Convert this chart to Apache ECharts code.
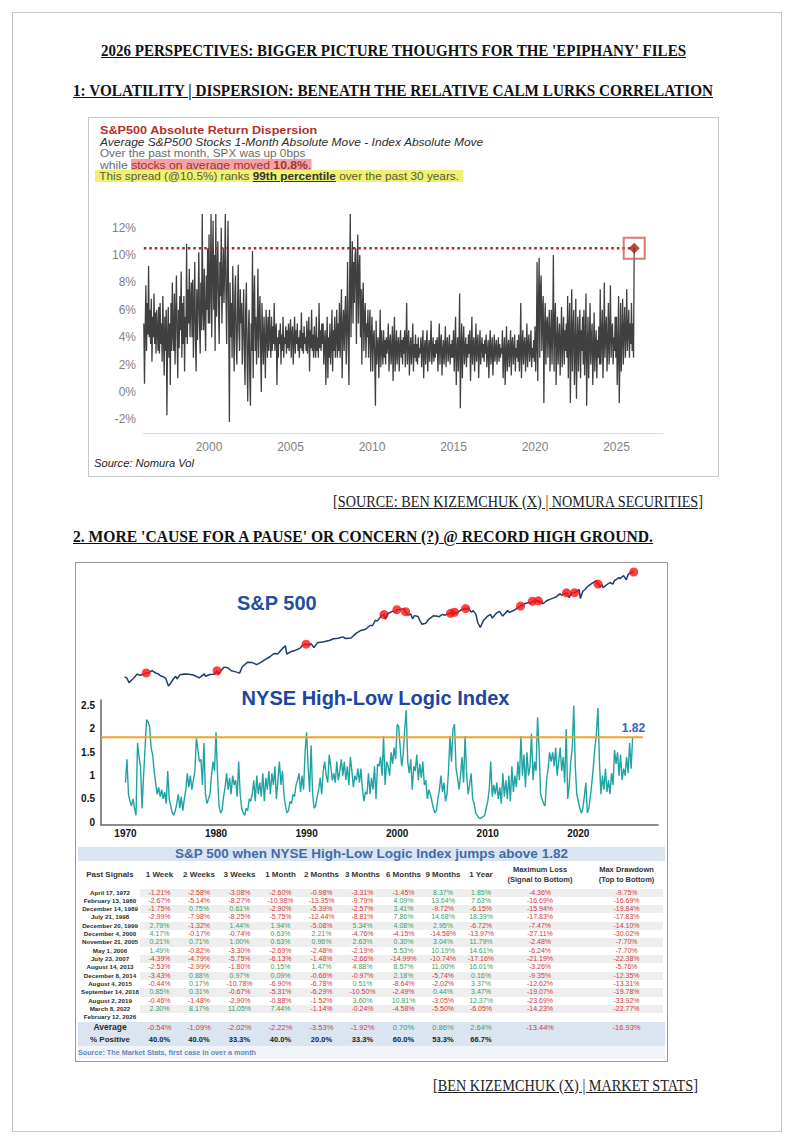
<!DOCTYPE html>
<html><head><meta charset="utf-8">
<script src="https://cdn.jsdelivr.net/npm/echarts@6/dist/echarts.min.js"></script>
<style>
html,body{margin:0;padding:0;background:#fff;}
body{width:794px;height:1144px;position:relative;overflow:hidden;font-family:"Liberation Sans",Arial,sans-serif;}
.frame{position:absolute;left:12px;top:12px;width:770px;height:1120px;border:1px solid #c4c4c4;box-sizing:border-box;}
.head{position:absolute;white-space:nowrap;font-family:"Liberation Serif","DejaVu Serif",serif;font-weight:bold;font-size:17px;line-height:19px;text-decoration:underline;color:#111;transform-origin:0 0;}
.src{font-weight:normal;color:#222;}
.hl{position:absolute;white-space:nowrap;transform-origin:0 0;line-height:12px;}
.box{position:absolute;box-sizing:border-box;pointer-events:none;}
#tbl{position:absolute;left:80px;top:847px;width:583px;font-family:"Liberation Sans",Arial,sans-serif;}
.row{display:flex;width:583px;}
.cell{flex:none;text-align:center;white-space:nowrap;overflow:visible;}
</style></head>
<body>
<div class="frame"></div>

<div id="h1" class="head">2026 PERSPECTIVES: BIGGER PICTURE THOUGHTS FOR THE 'EPIPHANY' FILES</div>
<div id="h2" class="head">1: VOLATILITY | DISPERSION: BENEATH THE RELATIVE CALM LURKS CORRELATION</div>

<div id="c1" style="position:absolute;left:88px;top:117px;width:630px;height:359px;"></div>
<div class="box" style="left:88px;top:117px;width:631px;height:360px;border:1px solid #c8c8c8;"></div>
<div id="t1" class="hl" style="color:#b5302a;font-weight:bold;font-size:11.5px;">S&amp;P500 Absolute Return Dispersion</div>
<div id="t2" class="hl" style="color:#2e2e2e;font-style:italic;font-size:11.5px;">Average S&amp;P500 Stocks 1-Month Absolute Move - Index Absolute Move</div>
<div id="t3" class="hl" style="color:#6b6b6b;font-size:11px;">Over the past month, SPX was up 0bps</div>
<div id="t4" class="hl" style="color:#6b6b6b;font-size:11px;">while <span style="background:#f3a3a7;color:#a3322c;">stocks on average moved <b><u>10.8%</u></b>.</span></div>
<div id="t5" class="hl" style="background:#eef26e;color:#5a5a40;font-size:11px;padding:0 4px;">This spread (@10.5%) ranks <b style="color:#333"><u>99th percentile</u></b> over the past 30 years.</div>
<div id="t6" class="hl" style="color:#222;font-style:italic;font-size:10.5px;">Source: Nomura Vol</div>

<div id="s1" class="head src">[SOURCE: BEN KIZEMCHUK (X) | NOMURA SECURITIES]</div>
<div id="h3" class="head">2. MORE 'CAUSE FOR A PAUSE' OR CONCERN (?) @ RECORD HIGH GROUND.</div>

<div id="c2" style="position:absolute;left:75px;top:562px;width:592px;height:283px;"></div>
<div id="tbl"></div>
<div class="box" style="left:75px;top:562px;width:593px;height:500px;border:1px solid #9a9a9a;"></div>

<div id="s2" class="head src">[BEN KIZEMCHUK (X) | MARKET STATS]</div>

<script>
// ================= DATA =================
// Chart 1: S&P500 absolute return dispersion (%), 24 samples per year from Jan 1996
const dispStartYear = 1996;
const dispPerYear = 24;
const dispValues = [
  5.0,0.6,4.5,7.8,3.0,6.5,4.2,9.2,4.0,6.0,3.5,6.8,2.2,5.5,4.0,7.2,3.5,5.8,2.8,6.0,4.5,3.0,6.2,2.8,          // 1996
  6.5,3.5,5.0,2.2,7.0,4.0,1.2,5.5,3.0,6.0,-1.7,4.0,6.2,2.5,5.0,0.5,6.5,3.0,8.0,4.2,3.0,7.2,2.0,5.5,         // 1997
  8.5,4.0,1.0,6.0,3.2,7.0,4.5,8.8,2.5,6.5,3.5,7.0,1.5,5.5,4.0,10.8,3.5,7.5,5.0,9.0,4.0,6.5,8.0,4.0,         // 1998
  8.2,2.5,6.0,9.5,4.0,1.5,7.5,3.8,6.5,10.2,5.0,2.8,8.0,4.5,13.0,6.0,4.5,9.0,5.5,3.0,8.5,6.0,10.5,5.0,       // 1999
  11.5,5.0,8.0,13.0,4.0,9.0,12.5,6.0,10.0,3.0,13.0,5.5,8.5,11.0,6.0,3.5,9.5,7.0,12.0,5.0,8.0,10.5,6.5,9.0,  // 2000
  13.0,7.0,3.5,9.0,12.5,5.0,-2.2,8.0,4.0,6.5,2.5,9.2,5.0,1.5,7.0,8.5,3.5,2.0,6.0,9.3,4.5,3.0,7.5,5.0,      // 2001
  6.5,2.0,5.0,7.5,3.0,0.5,6.0,8.0,2.5,-0.7,4.5,6.0,1.0,-1.0,5.0,3.0,10.3,1.0,6.5,8.5,3.0,5.5,2.0,4.5,      // 2002
  9.0,2.5,5.5,7.0,3.0,0.0,6.5,4.0,2.0,5.5,3.5,1.0,6.0,4.5,2.5,5.5,3.0,6.0,4.0,2.5,5.5,3.0,4.8,3.5,         // 2003
  6.5,3.0,4.5,5.0,0.5,4.0,2.5,4.5,3.5,5.0,2.0,4.2,3.0,5.5,2.5,4.0,3.5,4.8,2.8,4.5,3.2,5.0,3.0,4.2,         // 2004
  5.3,2.5,4.2,4.8,2.0,3.8,5.5,2.8,4.5,3.5,5.0,3.0,4.0,2.5,4.5,3.2,5.8,3.0,4.3,2.8,4.8,3.5,4.0,3.0,         // 2005
  5.2,2.8,4.0,5.5,1.5,4.5,3.2,6.0,3.0,4.2,2.5,4.8,3.5,2.5,5.5,3.0,4.0,2.5,6.5,3.2,4.5,3.0,5.0,3.5,         // 2006
  5.0,2.0,3.8,4.5,0.5,3.5,5.5,1.0,4.0,2.5,5.0,2.0,3.5,6.0,1.5,4.5,3.0,5.5,2.5,4.0,6.0,2.5,5.0,3.0,         // 2007
  6.5,2.5,5.0,7.5,1.0,4.5,6.0,3.0,5.5,7.0,2.0,4.5,9.5,3.5,0.5,7.5,13.0,4.0,8.0,11.0,5.0,9.5,6.5,10.0,      // 2008
  10.5,3.5,8.0,11.5,5.0,9.0,10.0,4.0,7.5,2.0,6.5,8.0,3.0,5.5,6.5,2.5,5.0,4.0,6.0,2.5,4.5,6.0,1.5,4.0,      // 2009
  5.5,1.5,4.0,4.5,2.5,-1.0,5.2,2.0,3.5,4.0,1.0,3.0,6.0,1.8,4.5,3.0,2.0,4.5,2.5,3.8,2.0,4.0,2.8,3.5,        // 2010
  5.0,1.5,3.5,4.2,2.0,3.0,4.8,0.8,3.5,5.5,1.5,3.0,4.5,2.0,3.5,4.0,1.5,3.2,4.5,2.5,3.8,2.0,4.0,2.8,         // 2011
  4.5,1.8,3.5,6.5,2.0,3.5,4.5,1.2,3.0,4.0,2.0,3.2,5.0,1.5,3.5,2.5,4.2,2.2,3.5,2.0,4.0,2.5,3.2,2.8,         // 2012
  4.0,1.8,3.2,4.5,1.0,3.0,3.8,2.0,3.5,4.5,1.5,3.0,3.8,2.2,3.5,5.2,2.0,3.0,4.0,2.2,3.5,2.5,3.8,2.8,         // 2013
  4.0,1.5,3.2,5.0,2.0,3.5,4.2,1.2,3.0,3.8,2.0,3.2,4.8,1.8,3.5,4.0,2.2,3.0,4.2,2.0,3.5,2.5,3.8,2.5,         // 2014
  4.5,1.5,3.5,5.5,0.5,3.0,4.0,1.5,3.5,7.2,-1.2,3.0,5.0,1.0,3.5,4.8,2.0,3.2,4.0,1.8,3.5,2.5,4.2,2.8,        // 2015
  4.5,0.8,3.0,5.5,2.0,3.5,4.0,1.5,3.0,5.0,2.2,3.5,4.2,1.0,3.0,4.5,2.0,3.2,4.0,2.5,3.5,2.2,3.8,2.8,         // 2016
  4.2,1.8,3.0,3.8,1.0,3.2,4.5,2.0,3.0,4.0,1.2,2.8,4.2,2.2,3.2,3.8,2.0,3.0,4.0,2.2,3.5,2.5,3.2,2.8,         // 2017
  4.5,1.0,3.0,4.0,0.5,2.8,4.8,1.5,3.2,3.8,1.8,3.0,4.5,1.2,3.5,4.0,2.0,3.0,4.2,1.5,3.2,2.5,3.8,2.2,         // 2018
  4.2,1.5,3.0,6.5,1.0,3.2,4.5,2.0,3.5,4.0,1.5,3.0,5.0,1.8,3.5,4.2,2.2,3.0,4.5,1.8,3.2,2.5,3.8,2.2,         // 2019
  4.8,1.5,3.5,9.5,0.8,6.0,9.8,2.5,7.5,8.5,3.0,6.0,7.0,-0.8,4.5,6.5,2.0,5.0,5.5,2.5,4.5,6.0,1.5,4.0,        // 2020
  6.0,2.0,4.5,10.0,1.5,5.0,6.5,0.5,3.5,5.5,2.0,4.0,5.0,1.2,3.5,6.2,1.8,4.0,5.5,2.0,4.5,3.0,5.0,2.5,        // 2021
  7.0,1.0,4.5,6.5,-0.8,3.5,7.5,1.5,4.5,6.0,0.5,3.0,6.8,-0.5,3.5,5.5,1.5,4.0,6.0,1.0,4.5,3.0,5.5,2.0,       // 2022
  6.0,1.2,3.5,7.2,-1.0,3.0,5.5,1.0,3.5,6.5,2.0,3.8,5.0,0.5,3.0,5.8,1.5,3.5,4.5,1.0,3.8,2.5,4.8,2.0,        // 2023
  7.5,2.0,4.0,6.0,1.0,3.5,8.0,2.5,4.5,5.5,1.5,3.5,6.5,2.0,4.0,7.8,2.5,4.5,5.0,2.0,4.0,3.0,5.5,2.5,         // 2024
  5.5,0.5,3.0,7.0,-0.8,2.5,6.5,1.5,4.0,6.8,2.0,4.5,6.2,2.5,4.0,7.5,3.0,4.5,6.0,2.5,5.0,3.5,6.5,3.0,        // 2025
  5.0,2.5,10.5                                                                                              // 2026
];
const dispCurrent = 10.5;
const dispYearTicks = [2000, 2005, 2010, 2015, 2020, 2025];
const dispPctTicks = [-2, 0, 2, 4, 6, 8, 10, 12];

// Chart 2 top: S&P 500 level (log scale)
const spxDates = [1969.9,1970.15,1970.4,1970.6,1970.9,1971.3,1971.6,1971.9,1972.29,1972.6,1972.95,1973.3,1973.6,1973.85,1974.2,1974.45,1974.75,1974.95,1975.3,1975.55,1975.7,1976.0,1976.5,1977.0,1977.5,1978.15,1978.7,1978.85,1979.3,1979.8,1980.12,1980.25,1980.6,1980.9,1981.3,1981.7,1982.0,1982.6,1982.9,1983.5,1984.0,1984.5,1984.9,1985.5,1985.95,1986.4,1986.8,1987.3,1987.65,1987.82,1988.3,1988.8,1989.3,1989.6,1989.95,1990.3,1990.5,1990.8,1991.2,1991.9,1992.5,1993.0,1993.5,1994.0,1994.3,1994.9,1995.5,1996.0,1996.5,1997.0,1997.3,1997.6,1997.8,1998.2,1998.55,1998.7,1998.95,1999.5,1999.8,1999.97,2000.3,2000.7,2000.93,2001.2,2001.5,2001.7,2001.9,2002.3,2002.55,2002.75,2003.15,2003.5,2004.0,2004.5,2004.6,2005.0,2005.3,2005.6,2005.89,2006.33,2006.5,2007.0,2007.3,2007.56,2007.65,2007.8,2008.2,2008.4,2008.7,2008.9,2009.18,2009.5,2010.0,2010.3,2010.5,2011.0,2011.3,2011.65,2012.2,2012.4,2012.9,2013.62,2014.0,2014.5,2014.8,2014.93,2015.4,2015.59,2015.7,2015.9,2016.1,2016.5,2017.0,2017.5,2018.0,2018.15,2018.5,2018.7,2018.98,2019.3,2019.59,2019.8,2020.1,2020.22,2020.5,2020.8,2021.0,2021.5,2021.99,2022.18,2022.45,2022.6,2022.75,2023.0,2023.5,2023.8,2024.0,2024.5,2024.6,2025.0,2025.3,2025.5,2025.9,2026.12];
const spxValues = [92,88,72,78,87,103,98,100,108,110,119,108,105,96,92,86,63,69,85,94,84,100,103,102,99,88,104,94,101,102,118,102,122,137,133,118,115,107,139,168,165,152,165,190,210,240,235,290,330,235,260,275,300,345,352,340,360,305,375,390,410,440,450,475,445,455,555,620,650,760,760,950,910,1100,1190,980,1230,1370,1300,1455,1470,1520,1340,1160,1220,1000,1140,1100,900,800,830,990,1130,1110,1080,1200,1160,1230,1255,1310,1250,1420,1500,1520,1450,1560,1320,1400,1200,850,700,920,1120,1200,1030,1280,1360,1120,1400,1300,1420,1685,1840,1960,1900,2060,2100,2095,1920,2080,1860,2100,2270,2440,2820,2620,2800,2905,2400,2900,2930,3050,3330,2300,3100,3400,3750,4300,4780,4170,3700,4100,3580,3900,4450,4150,4800,5450,5200,5900,5000,6200,6800,6850];
// Signal dates (decimal years) and S&P level at each signal
const signalDates = [1972.29,1980.12,1989.95,1998.55,1999.97,2000.93,2005.89,2006.33,2007.56,2013.62,2014.93,2015.59,2018.70,2019.59,2022.18,2026.12];
const signalSpx = [108,118,352,1190,1455,1340,1255,1310,1520,1685,2060,2095,2905,2930,4170,6850];

// Chart 2 bottom: NYSE High-Low Logic Index, 6 samples per year from 1970
const nyseStartYear = 1970;
const nyseValues = [
  0.85,1.35,0.6,0.45,0.35,0.5,   0.3,0.15,1.7,1.4,1.2,0.3,     1.0,1.6,2.2,2.15,2.05,1.6,    // 1970-72
  1.45,1.1,0.85,0.6,0.75,0.55,   0.7,0.5,0.65,0.4,1.1,0.5,     0.35,0.2,0.15,0.25,0.4,0.6,   // 1973-75
  0.3,0.55,0.25,0.5,0.7,1.05,    0.75,1.0,0.7,0.9,1.1,1.8,     1.55,1.3,1.35,0.8,1.7,0.6,    // 1976-78
  0.4,0.5,0.6,1.0,1.3,1.1,       1.93,1.0,0.35,0.2,0.25,0.55,  0.75,1.05,0.7,0.95,0.6,1.0,   // 1979-81
  0.8,0.9,0.55,1.3,0.6,0.3,      0.2,0.15,0.3,0.25,0.5,0.45,   0.6,0.9,0.45,1.0,0.6,0.85,    // 1982-84
  0.55,1.05,0.45,0.95,0.7,1.1,   0.6,1.05,0.8,1.2,0.5,0.9,     1.3,0.8,1.1,0.6,0.35,0.2,     // 1985-87
  0.25,0.45,0.4,0.6,0.55,0.8,    0.9,1.05,0.65,1.0,0.7,1.5,    1.93,1.2,0.65,1.65,0.6,0.3,   // 1988-90
  0.35,0.55,0.7,0.95,0.6,1.1,    1.3,1.0,0.85,1.45,1.2,0.9,    1.05,0.85,1.3,0.9,1.1,1.35,   // 1991-93
  1.0,1.3,0.9,1.2,0.8,1.4,       1.1,0.75,1.0,0.9,1.15,0.85,   1.15,0.7,0.45,0.65,0.6,1.05,  // 1994-96
  0.6,0.95,0.7,1.2,0.5,1.25,     1.2,1.4,1.0,1.85,0.8,1.3,     1.2,1.0,1.5,1.25,1.6,1.35,    // 1997-99
  2.1,2.05,1.6,1.2,1.45,2.0,     2.4,1.3,1.05,1.35,0.7,1.2,    1.1,1.45,0.9,1.25,0.95,1.3,   // 2000-02
  0.8,0.9,0.5,0.7,0.6,0.45,      0.3,0.2,0.25,0.5,0.7,1.0,     0.65,0.85,0.45,0.6,1.1,1.85,  // 2003-05
  1.3,2.0,2.1,1.15,0.95,0.7,     1.0,1.4,0.85,1.85,1.05,0.6,   0.8,1.05,0.5,0.4,0.2,0.15,    // 2006-08
  0.1,0.08,0.1,0.12,0.15,0.3,    0.45,0.7,1.3,0.55,0.8,0.6,    0.85,0.5,0.75,0.4,1.05,0.55,  // 2009-11
  0.9,0.5,1.0,0.45,1.2,0.65,     1.0,0.75,1.3,0.9,1.85,1.0,    1.45,0.75,1.5,1.0,1.2,1.9,    // 2012-14
  0.9,1.3,1.1,2.25,1.6,0.6,      0.5,0.4,0.35,0.9,1.15,1.5,    1.3,1.5,1.2,1.6,1.0,1.3,      // 2015-17
  1.6,1.1,1.4,0.85,2.0,0.5,      0.8,1.3,1.6,2.5,1.2,0.6,      0.45,0.3,0.2,0.3,0.55,0.85,   // 2018-20
  0.2,0.3,0.55,0.85,1.2,1.6,     1.9,2.45,1.3,0.6,1.0,0.7,     1.15,0.65,0.9,0.6,1.05,0.8,   // 2021-23
  1.55,1.25,1.5,1.0,1.45,0.9,    1.15,1.0,1.4,1.05,1.7,1.15,   1.82                          // 2024-26
];
const nyseThreshold = 1.82;
const nyseYearTicks = [1970, 1980, 1990, 2000, 2010, 2020];
const nyseYTicks = [0, 0.5, 1, 1.5, 2, 2.5];

// Table
const tableTitle = 'S&P 500 when NYSE High-Low Logic Index jumps above 1.82';
const tableHeads = [['Past Signals'],['1 Week'],['2 Weeks'],['3 Weeks'],['1 Month'],['2 Months'],['3 Months'],['6 Months'],['9 Months'],['1 Year'],['Maximum Loss','(Signal to Bottom)'],['Max Drawdown','(Top to Bottom)']];
const signalLabels = ['April 17, 1972','February 13, 1980','December 14, 1989','July 21, 1998','December 20, 1999','December 4, 2000','November 21, 2005','May 1, 2006','July 23, 2007','August 14, 2013','December 8, 2014','August 4, 2015','September 14, 2018','August 2, 2019','March 8, 2022','February 12, 2026'];
const ret1W  = [-1.21,-2.67,-1.75,-2.99,2.79,4.17,0.21,1.49,-4.39,-2.53,-3.43,-0.44,0.85,-0.46,2.30];
const ret2W  = [-2.58,-5.14,0.75,-7.98,-1.32,-0.17,0.71,-0.82,-4.79,-2.99,0.88,0.17,0.31,-1.48,8.17];
const ret3W  = [-3.08,-8.27,0.61,-8.25,1.44,-0.74,1.00,-3.30,-5.75,-1.80,0.97,-10.78,-0.67,-2.90,11.05];
const ret1M  = [-2.60,-10.98,-2.90,-5.75,1.94,0.63,0.63,-2.69,-6.13,0.15,0.09,-6.90,-5.31,-0.88,7.44];
const ret2M  = [-0.98,-13.35,-5.39,-12.44,-5.08,2.21,0.96,-2.48,-1.48,1.47,-0.66,-6.78,-6.29,-1.52,-1.14];
const ret3M  = [-3.31,-9.79,-2.57,-8.81,5.34,-4.76,2.63,-2.19,-2.66,4.88,-0.97,0.51,-10.50,3.60,-0.24];
const ret6M  = [-1.45,4.09,3.41,7.86,4.08,-4.15,0.30,5.53,-14.99,8.57,2.18,-8.64,-2.49,10.81,-4.58];
const ret9M  = [8.37,13.64,-9.72,14.68,2.95,-14.58,3.04,10.19,-10.74,11.00,-5.74,-2.02,0.44,-3.05,-5.50];
const ret1Y  = [1.85,7.63,-6.15,18.39,-6.72,-13.97,11.79,14.61,-17.16,16.01,0.16,3.37,3.47,12.37,-6.05];
const maxLoss = [-4.36,-16.69,-15.94,-17.83,-7.47,-27.11,-2.48,-6.24,-21.19,-3.26,-9.35,-12.62,-19.07,-23.69,-14.23];
const maxDrawdown = [-9.75,-16.69,-19.84,-17.83,-14.10,-30.02,-7.70,-7.70,-22.38,-5.76,-12.35,-13.31,-19.78,-33.92,-22.77];
const avgRow = [-0.54,-1.09,-2.02,-2.22,-3.53,-1.92,0.70,0.86,2.64,-13.44,-16.93];
const pctPositive = [40.0,40.0,33.3,40.0,20.0,33.3,60.0,53.3,66.7,null,null];
const tableSource = 'Source: The Market Stats, first case in over a month';

// ================= TEXT LAYOUT =================
function fit(id, x0, x1, cy) {
  const el = document.getElementById(id);
  el.style.left = x0 + 'px';
  el.style.top = '0px';
  const r = el.getBoundingClientRect();
  el.style.top = (cy - r.height / 2) + 'px';
  el.style.transform = 'scaleX(' + ((x1 - x0) / r.width) + ')';
}
fit('h1', 101, 686, 50);
fit('h2', 73, 713, 90);
fit('t1', 99.7, 317, 130);
fit('t2', 99.7, 483, 141.7);
fit('t3', 99.7, 305, 153);
fit('t4', 99.7, 311, 164.5);
fit('t5', 94.7, 463, 176);
fit('t6', 94, 194, 463);
fit('s1', 333, 703, 501);
fit('h3', 73, 653, 536);
fit('s2', 433, 698, 1085);

// ================= CHART 1 =================
const dispData = dispValues.map((v, i) => [dispStartYear + i / dispPerYear, v]);
const dispLast = dispData[dispData.length - 1];
const c1 = echarts.init(document.getElementById('c1'), null, {renderer: 'svg'});
c1.setOption({
  animation: false,
  grid: {left: 55, right: 55, top: 97, height: 219},
  xAxis: {
    type: 'value', min: 1995.95, max: 2027.85,
    axisLine: {show: true, onZero: false, lineStyle: {color: '#d9d9d9', width: 1}},
    axisTick: {show: false}, splitLine: {show: false},
    axisLabel: {customValues: dispYearTicks, formatter: v => String(v), color: '#7f7f7f', fontSize: 12, margin: 8, fontFamily: 'Liberation Sans'}
  },
  yAxis: {
    type: 'value', min: -3, max: 13,
    axisLine: {show: false}, axisTick: {show: false}, splitLine: {show: false},
    axisLabel: {customValues: dispPctTicks, formatter: v => v + '%', color: '#7f7f7f', fontSize: 12, margin: 7, fontFamily: 'Liberation Sans'}
  },
  series: [
    {type: 'line', data: dispData, showSymbol: false, symbol: 'none', lineStyle: {color: '#404040', width: 1.3}, z: 2},
    {type: 'line', data: [[dispStartYear, dispCurrent], [dispLast[0], dispCurrent]], symbol: 'none',
     lineStyle: {color: '#b3221e', width: 2.5, type: [2.5, 3]}, z: 3},
    {type: 'scatter', data: [[dispLast[0], dispCurrent]], symbol: 'rect', symbolSize: 21,
     itemStyle: {color: 'rgba(255,255,255,0.15)', borderColor: '#d9534f', borderWidth: 2}, z: 4},
    {type: 'scatter', data: [[dispLast[0], dispCurrent]], symbol: 'diamond', symbolSize: 11,
     itemStyle: {color: '#a51d1a'}, z: 5}
  ]
});

// ================= CHART 2 =================
const spxData = spxDates.map((d, i) => [d, spxValues[i]]);
const sigData = signalDates.map((d, i) => [d, signalSpx[i]]);
const nyseData = nyseValues.map((v, i) => [nyseStartYear + i / 6, v]);
const c2 = echarts.init(document.getElementById('c2'), null, {renderer: 'svg'});
const X0 = 1967.3, X1 = 2028.8;
c2.setOption({
  animation: false,
  grid: [
    {left: 26, right: 9, top: 8, height: 120},
    {left: 26, right: 9, top: 138, height: 124.6}
  ],
  xAxis: [
    {gridIndex: 0, type: 'value', min: X0, max: X1, show: false},
    {gridIndex: 1, type: 'value', min: X0, max: X1,
     axisLine: {show: true, onZero: false, lineStyle: {color: '#666', width: 1.5}},
     axisTick: {show: false}, splitLine: {show: false},
     axisLabel: {customValues: nyseYearTicks, formatter: v => String(v), color: '#111', fontWeight: 'bold', fontSize: 10, margin: 4, fontFamily: 'Liberation Sans'}}
  ],
  yAxis: [
    {gridIndex: 0, type: 'log', logBase: 10, min: 53.5, max: 7440, show: false},
    {gridIndex: 1, type: 'value', min: -0.05, max: 2.62,
     axisLine: {show: true, onZero: false, lineStyle: {color: '#666', width: 1.5}},
     axisTick: {show: false}, splitLine: {show: false},
     axisLabel: {customValues: nyseYTicks, formatter: v => String(v), color: '#111', fontWeight: 'bold', fontSize: 10, margin: 6, fontFamily: 'Liberation Sans'}}
  ],
  graphic: [
    {type: 'text', x: 162, y: 41, style: {text: 'S&P 500', fill: '#1f4f9e', font: 'bold 20px "Liberation Sans", Arial', textVerticalAlign: 'middle'}},
    {type: 'text', x: 300.5, y: 136, style: {text: 'NYSE High-Low Logic Index', fill: '#1c46a0', font: 'bold 20px "Liberation Sans", Arial', textAlign: 'center', textVerticalAlign: 'middle'}},
    {type: 'text', x: 558.5, y: 165.5, style: {text: '1.82', fill: '#3a62c0', font: 'bold 12px "Liberation Sans", Arial', textAlign: 'center', textVerticalAlign: 'middle'}}
  ],
  series: [
    {type: 'line', xAxisIndex: 0, yAxisIndex: 0, data: spxData, symbol: 'none', lineStyle: {color: '#1d3c70', width: 1.5}},
    {type: 'scatter', xAxisIndex: 0, yAxisIndex: 0, data: sigData, symbolSize: 9, itemStyle: {color: '#ff1010'}, z: 5},
    {type: 'line', xAxisIndex: 1, yAxisIndex: 1, data: nyseData, symbol: 'none', lineStyle: {color: '#21a3a3', width: 1.4}},
    {type: 'line', xAxisIndex: 1, yAxisIndex: 1, data: [[X0, nyseThreshold], [2027.1, nyseThreshold]], symbol: 'none',
     lineStyle: {color: '#f2a227', width: 2}, z: 4}
  ]
});

// ================= TABLE =================
const colW = [60, 39, 40, 41, 41, 41, 41, 41, 38, 38, 80, 83];
const colArrays = [ret1W, ret2W, ret3W, ret1M, ret2M, ret3M, ret6M, ret9M, ret1Y, maxLoss, maxDrawdown];
const RED = '#d03a3a', GREEN = '#3f9d5e';
function fmt(v) { return v.toFixed(2) + '%'; }
let html = '';
html += '<div style="height:14px;background:#dbe5f1;margin:0 -2px;text-align:center;font-weight:bold;font-size:13.5px;line-height:14px;color:#416ba6;">' + tableTitle + '</div>';
// header
html += '<div class="row" style="height:27.5px;align-items:center;">';
tableHeads.forEach((h, i) => {
  const fs = h.length > 1 ? 7.5 : 8;
  html += '<div class="cell" style="width:' + colW[i] + 'px;font-weight:bold;font-size:' + fs + 'px;line-height:10px;color:#333;' + (i === 11 ? 'padding-left:10px;box-sizing:border-box;' : '') + '">' + h.join('<br>') + '</div>';
});
html += '</div>';
// data rows
signalLabels.forEach((lab, r) => {
  html += '<div class="row" style="height:8.33px;line-height:8.33px;">';
  html += '<div class="cell" style="width:' + colW[0] + 'px;font-weight:bold;font-size:6.2px;color:#2a2a2a;">' + lab + '</div>';
  const shade = (r % 2 === 0 && r < 15) ? 'background:#eeeeee;' : '';
  colArrays.forEach((arr, c) => {
    const v = arr[r];
    const txt = (v === undefined) ? '' : fmt(v);
    const col = (v !== undefined && v >= 0) ? GREEN : RED;
    html += '<div class="cell" style="width:' + colW[c + 1] + 'px;font-size:7px;color:' + col + ';' + shade + (c === 10 ? 'padding-left:10px;box-sizing:border-box;' : '') + '">' + txt + '</div>';
  });
  html += '</div>';
});
// average row
html += '<div style="background:#dbe5f1;margin:0 -2px;padding:0 2px;">';
html += '<div class="row" style="height:11.7px;line-height:11.7px;">';
html += '<div class="cell" style="width:' + colW[0] + 'px;font-weight:bold;font-size:8.5px;color:#2a2a2a;">Average</div>';
avgRow.forEach((v, c) => {
  html += '<div class="cell" style="width:' + colW[c + 1] + 'px;font-size:7.5px;color:' + (v >= 0 ? GREEN : RED) + ';' + (c === 10 ? 'padding-left:10px;box-sizing:border-box;' : '') + '">' + fmt(v) + '</div>';
});
html += '</div>';
html += '<div class="row" style="height:13px;line-height:13px;">';
html += '<div class="cell" style="width:' + colW[0] + 'px;font-weight:bold;font-size:8px;color:#2a2a2a;">% Positive</div>';
pctPositive.forEach((v, c) => {
  html += '<div class="cell" style="width:' + colW[c + 1] + 'px;font-size:7.5px;font-weight:bold;color:#222;">' + (v === null ? '' : v.toFixed(1) + '%') + '</div>';
});
html += '</div></div>';
html += '<div style="height:13px;line-height:13px;background:#f1f5fa;margin:0 -2px;padding-left:0;font-size:7px;font-weight:bold;color:#6688bb;white-space:nowrap;"><span id="tsrc" style="display:inline-block;transform-origin:0 50%;">' + tableSource + '</span></div>';
document.getElementById('tbl').innerHTML = html;
const ts = document.getElementById('tsrc');
ts.style.transform = 'scaleX(' + (178 / ts.getBoundingClientRect().width) + ')';
</script>
</body></html>
